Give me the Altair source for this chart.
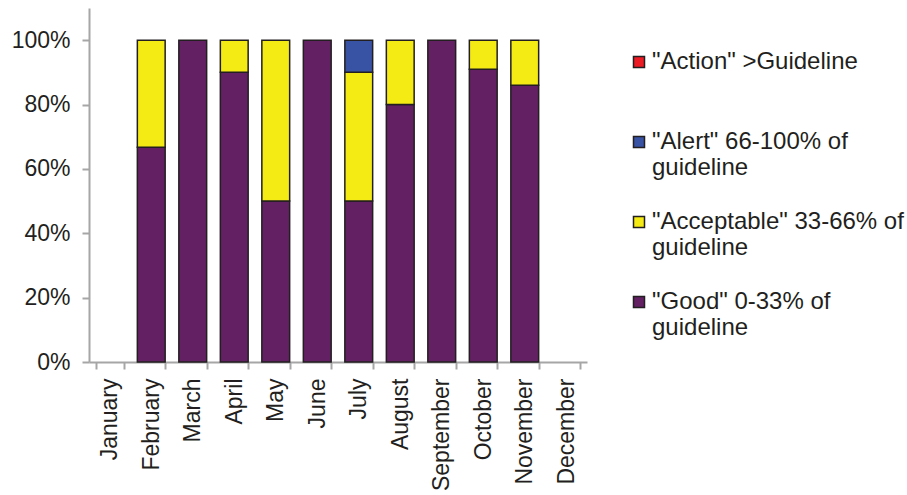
import altair as alt
import pandas as pd

months = ["January", "February", "March", "April", "May", "June", "July",
          "August", "September", "October", "November", "December"]

# Legend order (top to bottom); "|" marks a line break in the legend label.
# Every label spans two lines so the legend rows are evenly spaced.
categories = ['"Action" >Guideline|',
              '"Alert" 66-100% of|guideline',
              '"Acceptable" 33-66% of|guideline',
              '"Good" 0-33% of|guideline']
colors = ["#ED1C24", "#3953A4", "#F5EB14", "#632163"]

# Share of samples per category for each month (Jan and Dec have no samples)
good = [None, 0.667, 1.00, 0.90, 0.50, 1.00, 0.50, 0.80, 1.00, 0.91, 0.86, None]
acceptable = [None, 0.333, 0, 0.10, 0.50, 0, 0.40, 0.20, 0, 0.09, 0.14, None]
alert_ = [None, 0, 0, 0, 0, 0, 0.10, 0, 0, 0, 0, None]
action = [None, 0, 0, 0, 0, 0, 0, 0, 0, 0, 0, None]

rows = []
for series, cat, rank in [(good, categories[3], 0), (acceptable, categories[2], 1),
                          (alert_, categories[1], 2), (action, categories[0], 3)]:
    for m, v in zip(months, series):
        if v:
            rows.append({"month": m, "category": cat, "share": v, "rank": rank})
df = pd.DataFrame(rows)

font = "Liberation Sans"
text_color = "#231F20"
axis_gray = "#A6A6A6"

chart = alt.Chart(df).mark_bar(
    stroke="#231F20", strokeWidth=1.5
).encode(
    x=alt.X("month:N", sort=months,
            scale=alt.Scale(domain=months, paddingInner=0.33, paddingOuter=0.165),
            axis=alt.Axis(title=None, labelAngle=-90, labelFontSize=23,
                          labelFont=font, labelColor=text_color, labelPadding=9,
                          tickBand="extent", tickSize=7, tickColor=axis_gray,
                          tickWidth=2, domainColor=axis_gray, domainWidth=2,
                          labelAlign="right", labelBaseline="middle")),
    y=alt.Y("share:Q", stack="zero",
            scale=alt.Scale(domain=[0, 1.1], nice=False),
            axis=alt.Axis(title=None, values=[0, 0.2, 0.4, 0.6, 0.8, 1.0],
                          format="%", labelFontSize=23, labelFont=font,
                          labelColor=text_color, labelPadding=12, grid=False,
                          tickSize=7, tickColor=axis_gray, tickWidth=2,
                          domainColor=axis_gray, domainWidth=2)),
    color=alt.Color("category:N",
                    scale=alt.Scale(domain=categories, range=colors),
                    legend=alt.Legend(title=None, orient="none",
                                      legendX=538, legendY=42,
                                      symbolType="square", symbolSize=121,
                                      symbolStrokeColor="#231F20",
                                      symbolStrokeWidth=1.5,
                                      labelFontSize=24, labelFont=font,
                                      labelColor=text_color, labelLimit=400,
                                      labelBaseline="middle", labelOffset=1,
                                      rowPadding=30,
                                      labelExpr="split(datum.label, '|')")),
    order=alt.Order("rank:Q"),
).properties(
    width=498, height=354,
    autosize=alt.AutoSizeParams(type="none"),
    padding={"left": 89, "top": 8, "right": 320, "bottom": 133},
).configure(font=font).configure_view(strokeWidth=0)

chart.save("out.html", embed_options={"renderer": "svg", "actions": False})
